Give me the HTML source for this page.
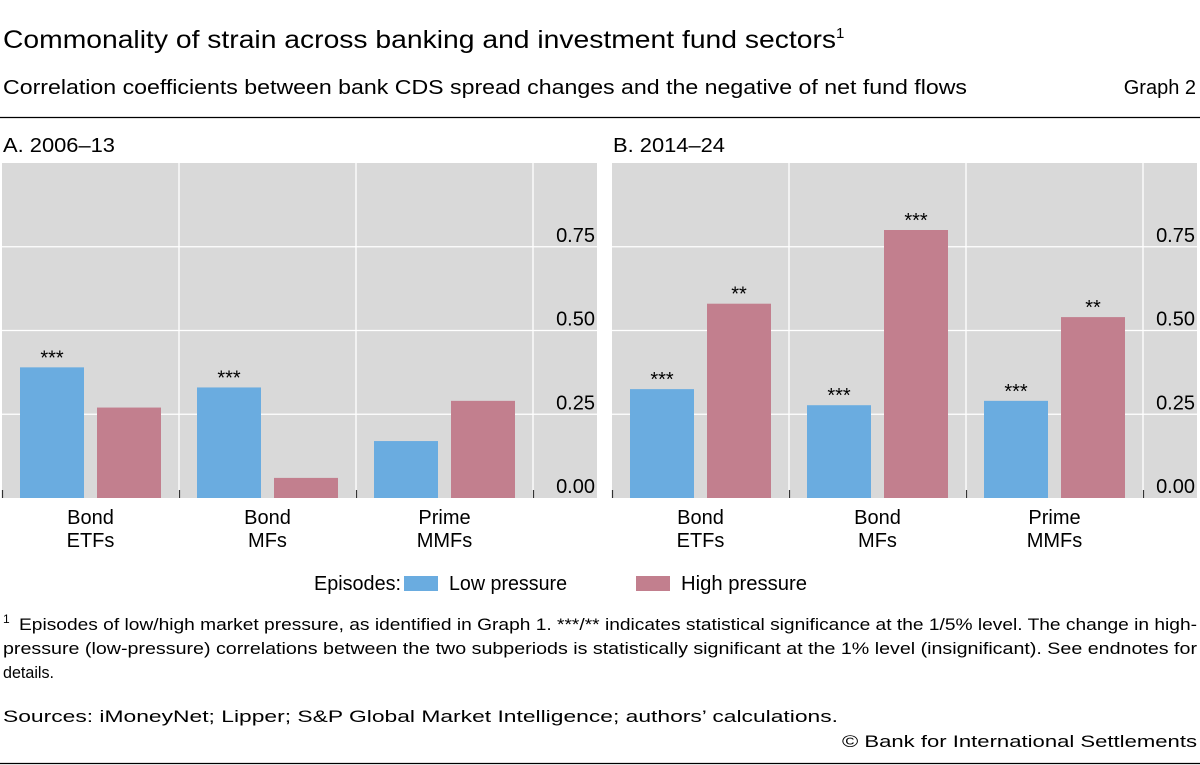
<!DOCTYPE html>
<html><head><meta charset="utf-8"><style>
body{margin:0;background:#fff;}
svg{display:block;font-family:"Liberation Sans",sans-serif;}
</style></head><body>
<svg id="c" width="1200" height="765" xmlns="http://www.w3.org/2000/svg">
<text x="3" y="48" font-size="25" fill="#000"><tspan textLength="833" lengthAdjust="spacingAndGlyphs">Commonality of strain across banking and investment fund sectors</tspan><tspan font-size="15" dy="-10">1</tspan></text>
<text x="3" y="94" font-size="20" textLength="964" lengthAdjust="spacingAndGlyphs">Correlation coefficients between bank CDS spread changes and the negative of net fund flows</text>
<text x="1196" y="94" font-size="20" text-anchor="end">Graph 2</text>
<line x1="0" y1="117.5" x2="1200" y2="117.5" stroke="#000" stroke-width="1.3"/>
<g id="panels"></g>
<text x="314" y="590" font-size="20" textLength="87" lengthAdjust="spacingAndGlyphs">Episodes:</text>
<rect x="404" y="576" width="34" height="15" fill="#6aace0"/>
<text x="449" y="590" font-size="20" textLength="118" lengthAdjust="spacingAndGlyphs">Low pressure</text>
<rect x="636" y="576" width="34" height="15" fill="#c27f8e"/>
<text x="681" y="590" font-size="20" textLength="126" lengthAdjust="spacingAndGlyphs">High pressure</text>
<g font-size="17">
<text x="3" y="623" font-size="12">1</text>
<text x="19" y="630" textLength="1178" lengthAdjust="spacingAndGlyphs">Episodes of low/high market pressure, as identified in Graph 1. ***/** indicates statistical significance at the 1/5% level. The change in high-</text>
<text x="3" y="654" textLength="1194" lengthAdjust="spacingAndGlyphs">pressure (low-pressure) correlations between the two subperiods is statistically significant at the 1% level (insignificant). See endnotes for</text>
<text x="3" y="678" textLength="51" lengthAdjust="spacingAndGlyphs">details.</text>
</g>
<text x="3" y="722" font-size="17" textLength="835" lengthAdjust="spacingAndGlyphs">Sources: iMoneyNet; Lipper; S&amp;P Global Market Intelligence; authors’ calculations.</text>
<text x="842" y="747" font-size="17" textLength="355" lengthAdjust="spacingAndGlyphs">© Bank for International Settlements</text>
<line x1="0" y1="763.5" x2="1200" y2="763.5" stroke="#000" stroke-width="1.3"/>
</svg>
<script>
const categories=["Bond|ETFs","Bond|MFs","Prime|MMFs"];
const panelTitles=["A. 2006–13","B. 2014–24"];
const lowA=[0.39,0.33,0.17];
const highA=[0.27,0.06,0.29];
const lowB=[0.325,0.277,0.29];
const highB=[0.58,0.80,0.54];
const sigLowA=["***","***",""];
const sigHighA=["","",""];
const sigLowB=["***","***","***"];
const sigHighB=["**","***","**"];
const ticks=[0,0.25,0.5,0.75];
const tickLabels=["0.00","0.25","0.50","0.75"];

const NS="http://www.w3.org/2000/svg";
const g=document.getElementById('panels');
function mk(t,a,p){const e=document.createElementNS(NS,t);for(const k in a)e.setAttribute(k,a[k]);(p||g).appendChild(e);return e;}
const y0=498,yTop=163,ymax=1.0;
function y(v){return y0-(v/ymax)*(y0-yTop);}
const panels=[{x:2,w:595,low:lowA,high:highA,sl:sigLowA,sh:sigHighA},{x:612,w:585,low:lowB,high:highB,sl:sigLowB,sh:sigHighB}];
panels.forEach((p,pi)=>{
  const cw=177;
  const t=mk('text',{x:p.x+1,y:152,'font-size':20,textLength:112,lengthAdjust:'spacingAndGlyphs'});t.textContent=panelTitles[pi];
  
  
  const bg=mk('rect',{x:p.x,y:yTop,width:p.w,height:y0-yTop,fill:'#d9d9d9'});
  
  
  ticks.forEach((v,i)=>{
    if(v>0){const l=mk('line',{x1:p.x,x2:p.x+p.w,y1:y(v),y2:y(v),stroke:'#fff','stroke-width':1.3});
    
    }
    const tl=mk('text',{x:p.x+p.w-2,y:y(v)-5,'font-size':20,'text-anchor':'end'});tl.textContent=tickLabels[i];
    
    
  });
  for(let i=1;i<=3;i++){const l=mk('line',{x1:p.x+cw*i,x2:p.x+cw*i,y1:yTop,y2:y0,stroke:'#fff','stroke-width':1.3});
    
    }
  for(let i=0;i<=3;i++){const tk=mk('line',{x1:p.x+cw*i+0.5,x2:p.x+cw*i+0.5,y1:y0-8,y2:y0,stroke:'#333','stroke-width':1.2});
    
    }
  categories.forEach((c,i)=>{
    const cx=p.x+cw*i;
    [[p.low[i],'#6aace0',18,p.sl[i],'bar-low'],[p.high[i],'#c27f8e',95,p.sh[i],'bar-high']].forEach(([v,col,off,s,nm])=>{
      const r=mk('rect',{x:cx+off,y:y(v),width:64,height:y0-y(v),fill:col});
      
      
      if(s){const st=mk('text',{x:cx+off+32,y:y(v)-3,'font-size':20,'text-anchor':'middle'});st.textContent=s;
        
        }
    });
    const parts=c.split('|');
    parts.forEach((ln,j)=>{const tx=mk('text',{x:cx+cw/2,y:524+j*23,'font-size':20,'text-anchor':'middle'});tx.textContent=ln;
      
      });
  });
});
</script>
</body></html>
